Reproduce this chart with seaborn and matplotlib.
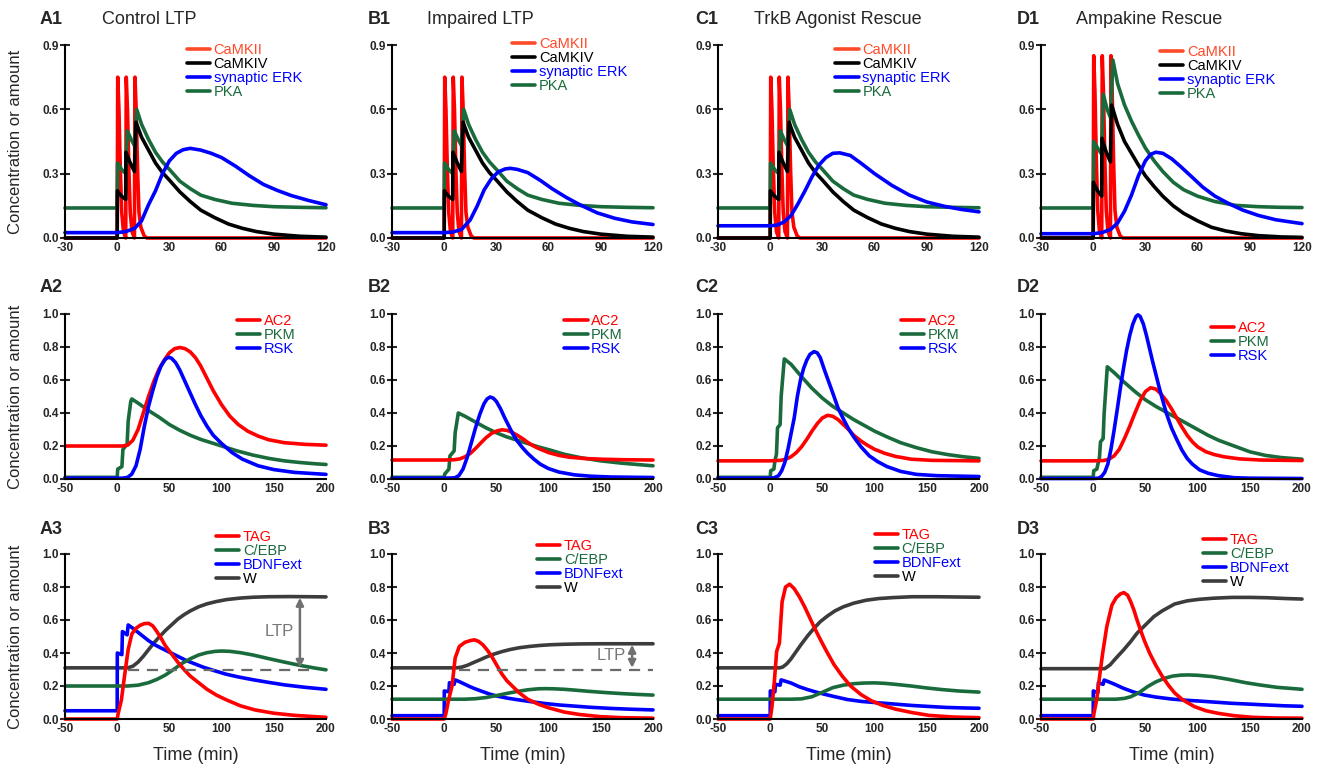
import matplotlib
matplotlib.use('Agg')
import matplotlib.pyplot as plt
import seaborn as sns
from matplotlib.lines import Line2D
from matplotlib.ticker import FormatStrFormatter

# ---------------- Row 1 : kinases around tetanus (-30..120 min) ----------------
camk2_t = [-30, 0, 0.3, 1.0, 1.8, 2.6, 3.6, 4.9, 5.2, 5.9, 6.7, 7.5, 8.5, 9.9, 10.2, 10.9, 11.7, 12.5, 13.6, 15.5, 17, 120]
camk2_y = [0, 0, 0.75, 0.6, 0.32, 0.12, 0.03, 0, 0.75, 0.6, 0.32, 0.12, 0.03, 0, 0.75, 0.6, 0.32, 0.12, 0.05, 0.01, 0, 0]
camk2_amp_y = [0, 0, 0.85, 0.68, 0.36, 0.13, 0.03, 0, 0.85, 0.68, 0.36, 0.13, 0.03, 0, 0.85, 0.68, 0.36, 0.13, 0.05, 0.01, 0, 0]

camk4_t = [-30, 0, 0.1, 2.5, 4.9, 5.0, 7.5, 9.9, 10.8, 14, 18, 22, 26, 30, 36, 42, 48, 56, 64, 72, 80, 90, 105, 120]
camk4_y = [0, 0, 0.22, 0.195, 0.18, 0.40, 0.35, 0.31, 0.54, 0.47, 0.41, 0.35, 0.305, 0.27, 0.215, 0.17, 0.13, 0.095, 0.065, 0.045, 0.03, 0.018, 0.008, 0.004]

pka_t = [-30, 0, 0.2, 2.5, 4.9, 5.8, 8, 10, 11.2, 14, 18, 22, 26, 30, 36, 42, 48, 56, 66, 78, 90, 105, 120]
pka_y = [0.14, 0.14, 0.35, 0.32, 0.30, 0.50, 0.46, 0.43, 0.60, 0.53, 0.46, 0.40, 0.355, 0.32, 0.265, 0.23, 0.20, 0.18, 0.162, 0.152, 0.146, 0.143, 0.141]

erk_a_t = [-30, 0, 5, 10, 14, 18, 22, 26, 30, 34, 38, 42, 48, 54, 60, 68, 76, 84, 92, 100, 110, 120]
erk_a_y = [0.025, 0.025, 0.03, 0.045, 0.08, 0.155, 0.22, 0.30, 0.36, 0.395, 0.412, 0.418, 0.41, 0.395, 0.375, 0.335, 0.29, 0.25, 0.222, 0.198, 0.175, 0.155]

erk_b_t = [-30, 0, 5, 10, 15, 19, 23, 27, 31, 35, 38, 42, 48, 55, 62, 70, 78, 88, 98, 108, 120]
erk_b_y = [0.025, 0.025, 0.028, 0.04, 0.085, 0.15, 0.225, 0.275, 0.308, 0.322, 0.325, 0.32, 0.305, 0.27, 0.23, 0.19, 0.155, 0.117, 0.092, 0.075, 0.063]

erk_c_t = [-30, 0, 4, 8, 12, 16, 20, 24, 28, 32, 36, 40, 46, 52, 60, 70, 80, 90, 100, 110, 120]
erk_c_y = [0.057, 0.057, 0.06, 0.075, 0.105, 0.16, 0.22, 0.285, 0.34, 0.375, 0.395, 0.397, 0.385, 0.35, 0.30, 0.245, 0.2, 0.168, 0.148, 0.133, 0.122]

camk4_amp_t = [-30, 0, 0.1, 2.5, 4.9, 5.0, 7.5, 9.9, 10.6, 14, 18, 22, 26, 30, 35, 40, 46, 52, 60, 68, 76, 85, 95, 108, 120]
camk4_amp_y = [0, 0, 0.26, 0.22, 0.195, 0.465, 0.40, 0.355, 0.62, 0.53, 0.45, 0.395, 0.34, 0.29, 0.24, 0.195, 0.15, 0.115, 0.08, 0.05, 0.033, 0.02, 0.011, 0.005, 0.003]

pka_amp_t = [-30, 0, 0.3, 2.5, 4.9, 5.8, 8, 10, 11.3, 14, 18, 22, 26, 30, 35, 40, 46, 52, 60, 70, 82, 95, 108, 120]
pka_amp_y = [0.14, 0.14, 0.45, 0.42, 0.39, 0.67, 0.60, 0.56, 0.83, 0.72, 0.62, 0.545, 0.48, 0.42, 0.36, 0.31, 0.26, 0.225, 0.195, 0.17, 0.152, 0.146, 0.143, 0.142]

erk_d_t = [-30, 0, 5, 10, 14, 18, 22, 26, 30, 33, 36, 40, 45, 50, 56, 63, 70, 78, 86, 95, 105, 120]
erk_d_y = [0.02, 0.02, 0.025, 0.04, 0.07, 0.125, 0.2, 0.29, 0.36, 0.39, 0.40, 0.395, 0.37, 0.335, 0.29, 0.237, 0.195, 0.16, 0.13, 0.105, 0.085, 0.067]

# ---------------- Row 2 : AC2, PKM, RSK (-50..200 min) ----------------
ac2_a_t = [-50, 0, 5, 10, 15, 20, 25, 30, 35, 40, 45, 50, 55, 60, 65, 70, 75, 80, 86, 92, 100, 108, 116, 125, 135, 145, 160, 180, 200]
ac2_a_y = [0.20, 0.20, 0.20, 0.205, 0.235, 0.30, 0.40, 0.50, 0.59, 0.665, 0.72, 0.765, 0.79, 0.797, 0.79, 0.77, 0.735, 0.685, 0.61, 0.535, 0.45, 0.38, 0.33, 0.29, 0.26, 0.238, 0.22, 0.21, 0.205]
pkm_a_t = [-50, 0, 0.5, 4.5, 5.5, 9.5, 10.5, 13, 14, 20, 30, 40, 50, 60, 70, 80, 90, 100, 115, 130, 145, 160, 175, 190, 200]
pkm_a_y = [0.01, 0.01, 0.06, 0.075, 0.18, 0.21, 0.35, 0.47, 0.485, 0.46, 0.415, 0.375, 0.33, 0.295, 0.265, 0.24, 0.22, 0.2, 0.17, 0.145, 0.125, 0.11, 0.1, 0.092, 0.088]
rsk_a_t = [-50, 0, 5, 10, 14, 18, 22, 26, 30, 34, 38, 42, 46, 49, 52, 56, 60, 65, 70, 75, 80, 86, 92, 100, 110, 120, 135, 150, 170, 200]
rsk_a_y = [0.005, 0.005, 0.005, 0.01, 0.03, 0.08, 0.18, 0.32, 0.44, 0.535, 0.62, 0.685, 0.725, 0.738, 0.732, 0.705, 0.66, 0.59, 0.52, 0.45, 0.385, 0.32, 0.265, 0.215, 0.16, 0.12, 0.08, 0.057, 0.04, 0.028]

ac2_b_t = [-50, 0, 10, 15, 20, 25, 30, 35, 40, 45, 50, 55, 60, 65, 70, 75, 80, 85, 90, 100, 110, 120, 135, 150, 170, 200]
ac2_b_y = [0.115, 0.115, 0.117, 0.122, 0.135, 0.155, 0.185, 0.218, 0.25, 0.275, 0.29, 0.298, 0.295, 0.283, 0.265, 0.245, 0.222, 0.202, 0.186, 0.16, 0.143, 0.132, 0.124, 0.12, 0.117, 0.115]
pkm_b_t = [-50, 0, 0.5, 4.5, 5.5, 9.5, 10.5, 13.5, 20, 30, 40, 50, 60, 70, 80, 90, 100, 115, 130, 150, 170, 200]
pkm_b_y = [0.01, 0.01, 0.03, 0.06, 0.14, 0.17, 0.28, 0.40, 0.38, 0.345, 0.31, 0.28, 0.255, 0.235, 0.215, 0.195, 0.178, 0.15, 0.13, 0.11, 0.096, 0.08]
rsk_b_t = [-50, 0, 10, 14, 18, 22, 26, 30, 34, 38, 41, 44, 47, 50, 54, 58, 62, 66, 70, 75, 80, 86, 92, 100, 110, 125, 140, 160, 200]
rsk_b_y = [0.005, 0.005, 0.007, 0.02, 0.06, 0.13, 0.22, 0.31, 0.39, 0.455, 0.485, 0.497, 0.49, 0.47, 0.425, 0.37, 0.32, 0.27, 0.23, 0.19, 0.155, 0.12, 0.09, 0.063, 0.042, 0.025, 0.017, 0.012, 0.009]

ac2_c_t = [-50, 0, 10, 15, 20, 25, 30, 35, 40, 45, 50, 55, 60, 65, 70, 75, 80, 87, 93, 100, 110, 120, 135, 155, 200]
ac2_c_y = [0.11, 0.11, 0.113, 0.12, 0.135, 0.16, 0.195, 0.24, 0.29, 0.335, 0.37, 0.386, 0.38, 0.36, 0.33, 0.30, 0.265, 0.23, 0.205, 0.18, 0.155, 0.137, 0.12, 0.113, 0.11]
pkm_c_t = [-50, 0, 0.5, 3.5, 4.5, 6, 7, 9.5, 10.5, 13.5, 20, 30, 40, 50, 60, 70, 80, 90, 100, 112, 125, 140, 155, 170, 185, 200]
pkm_c_y = [0.01, 0.01, 0.05, 0.06, 0.11, 0.15, 0.31, 0.33, 0.5, 0.728, 0.695, 0.62, 0.55, 0.49, 0.44, 0.4, 0.36, 0.325, 0.29, 0.255, 0.22, 0.19, 0.165, 0.148, 0.135, 0.125]
rsk_c_t = [-50, 0, 4, 8, 11, 14, 17, 20, 23, 26, 29, 32, 35, 38, 42, 45, 48, 52, 56, 60, 65, 70, 75, 80, 87, 95, 103, 112, 125, 140, 160, 200]
rsk_c_y = [0.005, 0.005, 0.008, 0.02, 0.05, 0.1, 0.18, 0.275, 0.37, 0.5, 0.6, 0.67, 0.72, 0.755, 0.772, 0.765, 0.735, 0.66, 0.59, 0.52, 0.43, 0.365, 0.305, 0.255, 0.195, 0.14, 0.105, 0.075, 0.046, 0.028, 0.02, 0.015]

ac2_d_t = [-50, 0, 10, 15, 20, 25, 30, 35, 40, 45, 50, 55, 60, 65, 70, 75, 80, 85, 90, 95, 100, 108, 116, 125, 140, 160, 200]
ac2_d_y = [0.11, 0.11, 0.112, 0.12, 0.14, 0.18, 0.246, 0.32, 0.40, 0.475, 0.53, 0.553, 0.545, 0.515, 0.475, 0.425, 0.37, 0.315, 0.265, 0.225, 0.195, 0.165, 0.148, 0.135, 0.122, 0.115, 0.112]
pkm_d_t = [-50, 0, 0.5, 3.5, 4.5, 6, 7, 9.5, 10.5, 13.5, 20, 30, 40, 50, 60, 70, 80, 90, 100, 110, 120, 135, 150, 165, 180, 200]
pkm_d_y = [0.01, 0.01, 0.05, 0.06, 0.09, 0.13, 0.225, 0.245, 0.4, 0.68, 0.645, 0.585, 0.53, 0.48, 0.44, 0.405, 0.37, 0.335, 0.3, 0.265, 0.235, 0.2, 0.165, 0.143, 0.13, 0.12]
rsk_d_t = [-50, 0, 5, 8, 11, 14, 17, 20, 23, 26, 29, 32, 35, 38, 41, 43, 45, 48, 51, 54, 57, 60, 63, 66, 70, 75, 80, 85, 90, 95, 102, 110, 120, 135, 150, 200]
rsk_d_y = [0.003, 0.003, 0.005, 0.015, 0.04, 0.09, 0.18, 0.295, 0.42, 0.55, 0.67, 0.78, 0.87, 0.94, 0.985, 0.995, 0.985, 0.94, 0.87, 0.79, 0.71, 0.635, 0.56, 0.49, 0.4, 0.31, 0.24, 0.175, 0.125, 0.09, 0.055, 0.035, 0.02, 0.008, 0.005, 0.003]

# ---------------- Row 3 : TAG, C/EBP, BDNFext, W (-50..200 min) ----------------
tag_a_t = [-50, 0, 1, 4, 7, 10.5, 14, 18, 22, 26, 30, 34, 38, 42, 46, 52, 58, 64, 70, 78, 86, 95, 105, 118, 132, 150, 170, 200]
tag_a_y = [0, 0, 0.035, 0.115, 0.26, 0.42, 0.515, 0.55, 0.568, 0.578, 0.58, 0.565, 0.53, 0.49, 0.445, 0.395, 0.345, 0.3, 0.26, 0.22, 0.18, 0.145, 0.115, 0.08, 0.055, 0.035, 0.022, 0.01]
cebp_a_t = [-50, 0, 10, 20, 30, 38, 46, 54, 62, 70, 78, 86, 94, 100, 108, 118, 130, 145, 160, 175, 190, 200]
cebp_a_y = [0.20, 0.20, 0.20, 0.205, 0.22, 0.24, 0.266, 0.3, 0.337, 0.365, 0.388, 0.402, 0.41, 0.412, 0.41, 0.402, 0.388, 0.366, 0.345, 0.325, 0.308, 0.298]
bdnf_a_t = [-50, 0, 0.1, 4.5, 5.0, 9.5, 10.5, 15, 20, 25, 30, 36, 42, 50, 58, 66, 74, 82, 92, 104, 116, 130, 145, 160, 180, 200]
bdnf_a_y = [0.05, 0.05, 0.40, 0.39, 0.53, 0.51, 0.57, 0.55, 0.525, 0.5, 0.475, 0.45, 0.43, 0.405, 0.38, 0.355, 0.335, 0.315, 0.295, 0.272, 0.255, 0.238, 0.222, 0.207, 0.192, 0.18]
w_a_t = [-50, 0, 10, 15, 20, 25, 30, 35, 40, 46, 52, 58, 64, 70, 78, 86, 95, 105, 118, 130, 145, 165, 185, 200]
w_a_y = [0.31, 0.31, 0.31, 0.32, 0.345, 0.38, 0.42, 0.46, 0.495, 0.535, 0.57, 0.605, 0.632, 0.655, 0.68, 0.698, 0.712, 0.724, 0.733, 0.738, 0.741, 0.742, 0.741, 0.74]

tag_b_t = [-50, 0, 1.5, 4, 7.5, 10.5, 14.5, 20, 25, 29, 33, 37, 41, 45, 50, 55, 60, 66, 72, 80, 90, 100, 115, 130, 150, 170, 200]
tag_b_y = [0, 0, 0.03, 0.11, 0.2, 0.37, 0.44, 0.465, 0.475, 0.48, 0.47, 0.45, 0.42, 0.385, 0.33, 0.275, 0.232, 0.195, 0.158, 0.12, 0.09, 0.068, 0.042, 0.027, 0.014, 0.008, 0.005]
cebp_b_t = [-50, 0, 20, 30, 40, 50, 60, 70, 80, 90, 96, 105, 115, 125, 140, 155, 170, 185, 200]
cebp_b_y = [0.12, 0.12, 0.12, 0.123, 0.13, 0.142, 0.155, 0.167, 0.177, 0.183, 0.184, 0.183, 0.18, 0.175, 0.167, 0.16, 0.154, 0.149, 0.145]
bdnf_b_t = [-50, 0, 0.1, 4.5, 5.0, 9.5, 10.5, 15, 20, 25, 30, 36, 44, 52, 60, 70, 82, 95, 110, 125, 140, 160, 180, 200]
bdnf_b_y = [0.02, 0.02, 0.17, 0.165, 0.22, 0.21, 0.237, 0.225, 0.21, 0.195, 0.182, 0.168, 0.15, 0.137, 0.127, 0.117, 0.106, 0.095, 0.085, 0.078, 0.071, 0.064, 0.059, 0.055]
w_b_t = [-50, 0, 12, 17, 22, 28, 34, 40, 47, 55, 63, 72, 82, 92, 102, 115, 130, 150, 175, 200]
w_b_y = [0.31, 0.31, 0.31, 0.315, 0.325, 0.342, 0.358, 0.375, 0.392, 0.408, 0.421, 0.432, 0.44, 0.446, 0.45, 0.453, 0.455, 0.456, 0.456, 0.456]

tag_c_t = [-50, 0, 1.6, 4, 6.2, 8.8, 11.4, 14.7, 18.6, 23, 28, 33, 38, 43, 48, 54, 61, 69, 77, 87, 97, 108, 120, 135, 152, 175, 200]
tag_c_y = [0, 0, 0.07, 0.23, 0.41, 0.46, 0.71, 0.80, 0.817, 0.79, 0.74, 0.68, 0.612, 0.545, 0.482, 0.41, 0.331, 0.26, 0.2, 0.148, 0.11, 0.082, 0.06, 0.04, 0.022, 0.012, 0.008]
cebp_c_t = [-50, 0, 20, 30, 40, 50, 60, 70, 80, 90, 100, 110, 120, 135, 150, 165, 180, 200]
cebp_c_y = [0.12, 0.12, 0.12, 0.122, 0.135, 0.162, 0.19, 0.205, 0.214, 0.218, 0.219, 0.216, 0.21, 0.2, 0.188, 0.178, 0.17, 0.163]
bdnf_c_t = [-50, 0, 0.1, 4.5, 5.0, 9.5, 10.5, 15, 20, 28, 36, 44, 52, 62, 74, 88, 104, 120, 136, 152, 169, 185, 200]
bdnf_c_y = [0.02, 0.02, 0.17, 0.165, 0.21, 0.205, 0.237, 0.228, 0.218, 0.195, 0.178, 0.163, 0.15, 0.135, 0.118, 0.106, 0.098, 0.09, 0.082, 0.076, 0.07, 0.067, 0.065]
w_c_t = [-50, 0, 9, 12, 16, 20, 25, 30, 36, 42, 48, 55, 62, 70, 80, 92, 104, 118, 136, 160, 185, 200]
w_c_y = [0.31, 0.31, 0.31, 0.315, 0.335, 0.365, 0.41, 0.455, 0.505, 0.55, 0.59, 0.625, 0.655, 0.68, 0.702, 0.72, 0.73, 0.736, 0.741, 0.741, 0.739, 0.738]

tag_d_t = [-50, 0, 0.7, 3.3, 6.5, 9.1, 13, 17.9, 22, 26, 29.3, 33, 36, 39, 42, 45, 49, 54, 60, 66, 72, 78, 86, 97, 108, 120, 135, 153, 175, 200]
tag_d_y = [0, 0, 0.034, 0.115, 0.277, 0.4, 0.56, 0.69, 0.735, 0.758, 0.766, 0.75, 0.71, 0.66, 0.6, 0.545, 0.475, 0.4, 0.325, 0.26, 0.205, 0.158, 0.115, 0.075, 0.05, 0.034, 0.02, 0.01, 0.006, 0.005]
cebp_d_t = [-50, 0, 22, 30, 36, 44, 52, 60, 68, 76, 84, 91, 100, 114, 130, 146, 160, 176, 190, 200]
cebp_d_y = [0.12, 0.12, 0.12, 0.125, 0.135, 0.16, 0.196, 0.225, 0.246, 0.26, 0.266, 0.267, 0.265, 0.257, 0.24, 0.22, 0.206, 0.192, 0.185, 0.18]
bdnf_d_t = [-50, 0, 0.1, 4.5, 5.0, 9.5, 10.5, 15, 20, 29, 38, 49, 60, 75, 88, 101, 117, 133, 150, 166, 183, 200]
bdnf_d_y = [0.02, 0.02, 0.17, 0.16, 0.22, 0.21, 0.236, 0.225, 0.212, 0.186, 0.165, 0.145, 0.133, 0.121, 0.114, 0.109, 0.102, 0.095, 0.09, 0.085, 0.08, 0.077]
w_d_t = [-50, 0, 11, 16, 22, 29, 36, 42, 50, 58, 66, 78, 90, 101, 115, 133, 150, 166, 185, 200]
w_d_y = [0.305, 0.305, 0.305, 0.327, 0.37, 0.418, 0.47, 0.52, 0.57, 0.62, 0.655, 0.697, 0.716, 0.725, 0.732, 0.737, 0.737, 0.735, 0.73, 0.727]

# W baseline (dashed) and LTP arrows
base_a_t = [10, 188]
base_b_t = [14, 200]
base_y = [0.30, 0.30]
ltp_a = (175, 0.31, 0.735)
ltp_b = (180, 0.31, 0.45)

titles = ['Control LTP', 'Impaired LTP', 'TrkB Agonist Rescue', 'Ampakine Rescue']
row1_labels = ['CaMKII', 'CaMKIV', 'synaptic ERK', 'PKA']
row2_labels = ['AC2', 'PKM', 'RSK']
row3_labels = ['TAG', 'C/EBP', 'BDNFext', 'W']

RED = '#FF0000'
ORANGE = '#FF4A2A'
GREEN = '#1A6B3C'
BLUE = '#0000FF'
BLACK = '#000000'
GREY = '#3C3C3C'

sns.set_style('ticks')
plt.rcParams['font.family'] = ['Liberation Sans', 'DejaVu Sans']
plt.rcParams['axes.unicode_minus'] = False

fig = plt.figure(figsize=(13.2, 7.66), dpi=100)
W, H = 1320, 766
col_left = [65, 392, 718, 1041]
row_span = [(45, 238), (314, 479), (554, 719)]
ax_w = 261

row1_curves = [
    [(camk2_t, camk2_y, RED), (pka_t, pka_y, GREEN), (camk4_t, camk4_y, BLACK), (erk_a_t, erk_a_y, BLUE)],
    [(camk2_t, camk2_y, RED), (pka_t, pka_y, GREEN), (camk4_t, camk4_y, BLACK), (erk_b_t, erk_b_y, BLUE)],
    [(camk2_t, camk2_y, RED), (pka_t, pka_y, GREEN), (camk4_t, camk4_y, BLACK), (erk_c_t, erk_c_y, BLUE)],
    [(camk2_t, camk2_amp_y, RED), (pka_amp_t, pka_amp_y, GREEN), (camk4_amp_t, camk4_amp_y, BLACK), (erk_d_t, erk_d_y, BLUE)],
]
row2_curves = [
    [(pkm_a_t, pkm_a_y, GREEN), (ac2_a_t, ac2_a_y, RED), (rsk_a_t, rsk_a_y, BLUE)],
    [(pkm_b_t, pkm_b_y, GREEN), (ac2_b_t, ac2_b_y, RED), (rsk_b_t, rsk_b_y, BLUE)],
    [(pkm_c_t, pkm_c_y, GREEN), (ac2_c_t, ac2_c_y, RED), (rsk_c_t, rsk_c_y, BLUE)],
    [(pkm_d_t, pkm_d_y, GREEN), (ac2_d_t, ac2_d_y, RED), (rsk_d_t, rsk_d_y, BLUE)],
]
row3_curves = [
    [(w_a_t, w_a_y, GREY), (bdnf_a_t, bdnf_a_y, BLUE), (cebp_a_t, cebp_a_y, GREEN), (tag_a_t, tag_a_y, RED)],
    [(w_b_t, w_b_y, GREY), (bdnf_b_t, bdnf_b_y, BLUE), (cebp_b_t, cebp_b_y, GREEN), (tag_b_t, tag_b_y, RED)],
    [(w_c_t, w_c_y, GREY), (bdnf_c_t, bdnf_c_y, BLUE), (cebp_c_t, cebp_c_y, GREEN), (tag_c_t, tag_c_y, RED)],
    [(w_d_t, w_d_y, GREY), (bdnf_d_t, bdnf_d_y, BLUE), (cebp_d_t, cebp_d_y, GREEN), (tag_d_t, tag_d_y, RED)],
]

rows = [
    dict(curves=row1_curves, labels=row1_labels, lcolors=[ORANGE, BLACK, BLUE, GREEN],
         tcolors=[ORANGE, BLACK, BLUE, GREEN], xlim=(-30, 120), xticks=range(-30, 121, 30),
         ylim=(0, 0.9), yticks=[0, 0.3, 0.6, 0.9],
         anchors=[(0.466, 1.01), (0.46, 1.04), (0.45, 1.01), (0.456, 1.0)]),
    dict(curves=row2_curves, labels=row2_labels, lcolors=[RED, GREEN, BLUE],
         tcolors=[RED, GREEN, BLUE], xlim=(-50, 200), xticks=range(-50, 201, 50),
         ylim=(0, 1.0), yticks=[0, 0.2, 0.4, 0.6, 0.8, 1.0],
         anchors=[(0.658, 1.0), (0.66, 1.0), (0.70, 1.0), (0.65, 0.96)]),
    dict(curves=row3_curves, labels=row3_labels, lcolors=[RED, GREEN, BLUE, GREY],
         tcolors=[RED, GREEN, BLUE, BLACK], xlim=(-50, 200), xticks=range(-50, 201, 50),
         ylim=(0, 1.0), yticks=[0, 0.2, 0.4, 0.6, 0.8, 1.0],
         anchors=[(0.578, 1.146), (0.555, 1.09), (0.60, 1.16), (0.62, 1.13)]),
]

panel_lbl_x = [40, 368, 695, 1017]
panel_lbl_y = [20, 288, 529]
title_x = [102, 427, 754, 1076]

for r, spec in enumerate(rows):
    top, bot = row_span[r]
    for c in range(4):
        ax = fig.add_axes([col_left[c] / W, 1 - bot / H, ax_w / W, (bot - top) / H])
        for t, y, col in spec['curves'][c]:
            sns.lineplot(x=t, y=y, ax=ax, color=col, linewidth=2.6, estimator=None,
                         sort=False, legend=False, clip_on=False)

        if r == 2 and c < 2:
            base_t = base_a_t if c == 0 else base_b_t
            sns.lineplot(x=base_t, y=base_y, ax=ax, color='#6A6A6A', linewidth=1.6,
                         linestyle=(0, (5, 3.5)), estimator=None, sort=False, legend=False)
            xa, y0, y1 = ltp_a if c == 0 else ltp_b
            ax.annotate('', xy=(xa, y1), xytext=(xa, y0),
                        arrowprops=dict(arrowstyle='<|-|>', color='#707070', lw=1.8,
                                        mutation_scale=11, shrinkA=0, shrinkB=0))
            ax.text(xa - 20, (y0 + y1) / 2 + 0.005, 'LTP', color='#777777', fontsize=12,
                    ha='center', va='center')

        ax.set_xlim(*spec['xlim'])
        ax.set_ylim(*spec['ylim'])
        ax.set_xticks(list(spec['xticks']))
        ax.set_yticks(spec['yticks'])
        ax.yaxis.set_major_formatter(FormatStrFormatter('%.1f'))
        for s in ['top', 'right']:
            ax.spines[s].set_visible(False)
        for s in ['left', 'bottom']:
            ax.spines[s].set_linewidth(1.5)
            ax.spines[s].set_color('black')
        ax.tick_params(axis='y', direction='inout', length=7, width=1.5, pad=1,
                       labelsize=8.5)
        ax.tick_params(axis='x', length=0, pad=3, labelsize=8.5)
        for lb in ax.get_xticklabels() + ax.get_yticklabels():
            lb.set_fontweight('bold')
        ax.set_xlabel('')
        ax.set_ylabel('')

        handles = [Line2D([0], [0], color=lc, lw=2.6) for lc in spec['lcolors']]
        ax.legend(handles, spec['labels'], loc='upper left', bbox_to_anchor=spec['anchors'][c],
                  frameon=False, fontsize=10.5, handlelength=1.6, handletextpad=0.25,
                  labelspacing=0.0, borderpad=0, borderaxespad=0, handleheight=0.6,
                  labelcolor=spec['tcolors'])

        if c == 0:
            ax.set_ylabel('Concentration or amount', fontsize=12)
            ax.yaxis.set_label_coords(-0.16, 0.5)
        if r == 2:
            ax.set_xlabel('Time (min)', fontsize=13)
            ax.xaxis.set_label_coords(0.5, -0.17)

        fig.text(panel_lbl_x[c] / W, 1 - panel_lbl_y[r] / H, f'{"ABCD"[c]}{r + 1}',
                 fontsize=13, fontweight='bold', ha='left', va='center')
        if r == 0:
            fig.text(title_x[c] / W, 1 - panel_lbl_y[r] / H, titles[c],
                     fontsize=13, ha='left', va='center')

fig.savefig('out.png', dpi=100)
